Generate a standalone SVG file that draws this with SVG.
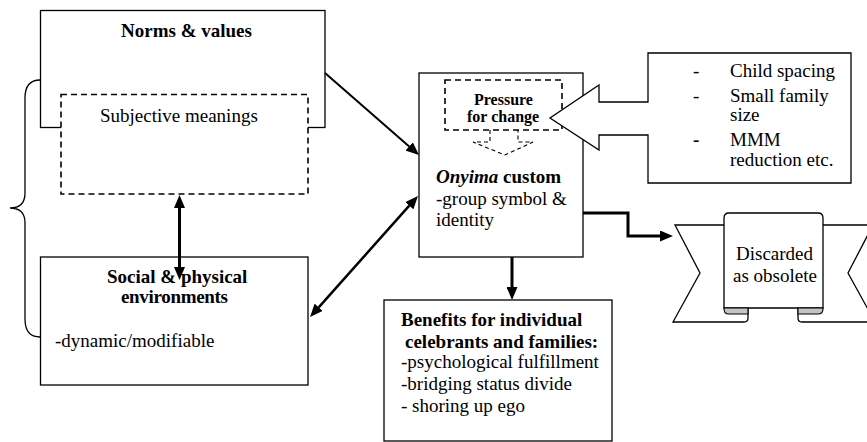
<svg xmlns="http://www.w3.org/2000/svg" width="867" height="442" viewBox="0 0 867 442">
<defs>
<style>
text{font-family:"Liberation Serif","Times New Roman",serif;fill:#000}
.t{font-size:19px}
.b{font-size:19px;font-weight:bold}
.box{fill:#fff;stroke:#000;stroke-width:1.3}
.dash{fill:#fff;stroke:#000;stroke-width:1.6;stroke-dasharray:6 4}
.thin{fill:none;stroke:#000;stroke-width:1.3}
.ar{fill:none;stroke:#000}
</style>
<marker id="ah" markerUnits="userSpaceOnUse" markerWidth="13" markerHeight="11" viewBox="0 0 13 11" refX="0" refY="5.5" orient="auto-start-reverse">
<path d="M0,0 L13,5.5 L0,11 Z" fill="#000"/>
</marker>
</defs>
<rect width="867" height="442" fill="#fff"/>

<g id="brace">
<path class="thin" d="M40,80 Q25,80 25,98 V193 Q25,208 10,208 Q25,208 25,223 V319 Q25,337 40,337"/>
</g>

<g id="norms">
<rect class="box" x="40.5" y="10.5" width="284.5" height="117"/>
<text class="b" x="121" y="37" font-size="18">Norms &amp; values</text>
</g>

<g id="subjective">
<rect class="dash" x="61" y="94.5" width="247" height="99.5"/>
<text class="t" x="100" y="122" font-size="20">Subjective meanings</text>
</g>

<g id="social">
<rect class="box" x="40.5" y="257" width="267.5" height="128"/>
<text class="b" x="107" y="283">Social &amp; physical</text>
<text class="b" x="121" y="303" font-size="15" textLength="107" lengthAdjust="spacing">environments</text>
<text class="t" x="55" y="347" font-size="20">-dynamic/modifiable</text>
</g>

<g id="onyima">
<rect class="box" x="419" y="73" width="164" height="184"/>
<text class="b" x="436" y="183"><tspan font-style="italic">Onyima</tspan> custom</text>
<text class="t" x="436" y="205">-group symbol &amp;</text>
<text class="t" x="436" y="226">identity</text>
</g>

<g id="pressure">
<rect class="dash" x="445" y="80" width="117" height="50" stroke-width="1.4" fill="none"/>
<path d="M490,130 V142 H473 L505,155 L533,142 H518 V130" fill="none" stroke="#000" stroke-width="1.1" stroke-dasharray="4 3"/>
<text x="474" y="105" font-size="16" font-weight="bold">Pressure</text>
<text x="467" y="122" font-size="16" font-weight="bold">for change</text>
</g>

<g id="callout">
<path class="box" d="M648,53 H851 V183 H648 V135 H599 V150 L550,118 L599,85 V102 H648 Z"/>
<text class="t" x="693" y="77">-</text>
<text class="t" x="730" y="77">Child spacing</text>
<text class="t" x="693" y="102">-</text>
<text class="t" x="730" y="102">Small family</text>
<text class="t" x="730" y="121">size</text>
<text class="b" x="693" y="146">-</text>
<text class="t" x="730" y="146">MMM</text>
<text class="t" x="730" y="166">reduction etc.</text>
</g>

<g id="benefits">
<rect class="box" x="384" y="300" width="228" height="141"/>
<text class="b" x="401" y="326">Benefits for individual</text>
<text class="b" x="405" y="348">celebrants and families:</text>
<text class="t" x="401" y="368">-psychological fulfillment</text>
<text class="t" x="401" y="390">-bridging status divide</text>
<text class="t" x="401" y="412">- shoring up ego</text>
</g>

<g id="discarded">
<path class="box" d="M724,225 H675 L700,273 L673,322 H744 Q748,322 748,318 V308"/>
<path class="box" d="M823,225 H873 L848,273 L875,322 H802 Q798,322 798,318 V308"/>
<path class="box" d="M724,308 V218 Q724,213 729,213 H818 Q823,213 823,218 V308 Z"/>
<path d="M724,308 H748 V314 H729 Q724,314 724,309 Z" fill="#c4c4c4" stroke="#000" stroke-width="1.1"/>
<path d="M798,308 H823 V309 Q823,314 818,314 H798 Z" fill="#c4c4c4" stroke="#000" stroke-width="1.1"/>
<text class="t" x="736" y="260" font-size="18.5">Discarded</text>
<text class="t" x="733" y="282" font-size="18.5">as obsolete</text>
</g>

<g id="connectors">
<path class="ar" stroke-width="2" d="M325,73 L409.2,146.4" marker-end="url(#ah)"/>
<path class="ar" stroke-width="2.5" d="M318.7,307.3 L409.3,205.7" marker-start="url(#ah)" marker-end="url(#ah)"/>
<path class="ar" stroke-width="3" d="M179.5,208 V267" marker-start="url(#ah)" marker-end="url(#ah)"/>
<path class="ar" stroke-width="3" d="M583,213 H628 V236 H660" marker-end="url(#ah)"/>
<path class="ar" stroke-width="3" d="M512,257 V287" marker-end="url(#ah)"/>
</g>
</svg>
